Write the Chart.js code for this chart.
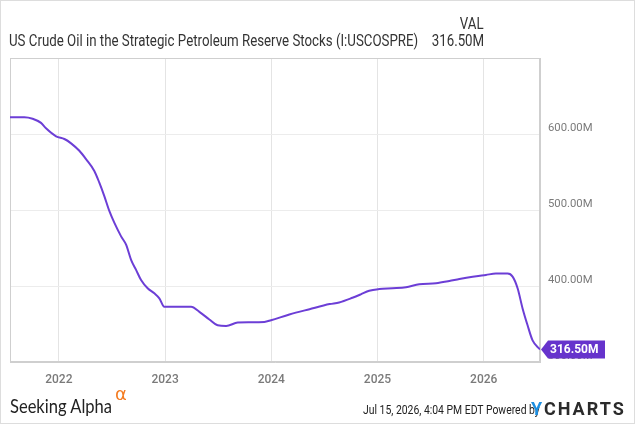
<!DOCTYPE html>
<html>
<head>
<meta charset="utf-8">
<script src="https://cdn.jsdelivr.net/npm/chart.js@4.4.1/dist/chart.umd.min.js"></script>
<style>
  body { margin: 0; background: #fff; font-family: Roboto, sans-serif; }
  #wrap { position: relative; width: 635px; height: 424px; overflow: hidden; }
  #frame { position: absolute; left: 0; top: 0; width: 633px; height: 422px; border: 1px solid #ddd; pointer-events: none; }
  .t { position: absolute; white-space: nowrap; color: #333; }
  .cond { transform: scaleX(0.83); transform-origin: left top; }
  .cond.r { transform-origin: right top; }
  #title { left: 9px; top: 31px; font-size: 16px; }
  #valhead { right: 151px; top: 14px; font-size: 16px; }
  #valnum { right: 151px; top: 31px; font-size: 16px; }
  #sa { left: 10px; top: 394px; font-size: 19px; color: #222; font-family: Lato, sans-serif; transform: scaleX(0.87); transform-origin: left top; }
  #alpha { left: 115px; top: 383px; font-size: 18px; color: #f47b20; font-family: "DejaVu Sans", sans-serif; }
  #stamp { left: 363px; top: 402px; font-size: 13px; color: #222; transform: scaleX(0.8); }
  #yc { left: 531px; top: 398px; font-size: 18px; font-weight: bold; letter-spacing: 2px; color: #2b2b2b; }
  #yc span { color: #1d8fe1; }
</style>
</head>
<body>
<div id="wrap">
  <canvas id="spr_chart" width="635" height="424"></canvas>
  <div class="t cond" id="title">US Crude Oil in the Strategic Petroleum Reserve Stocks (I:USCOSPRE)</div>
  <div class="t cond r" id="valhead">VAL</div>
  <div class="t cond r" id="valnum">316.50M</div>
  <div class="t" id="sa">Seeking Alpha</div>
  <div class="t" id="alpha">α</div>
  <div class="t cond" id="stamp">Jul 15, 2026, 4:04 PM EDT Powered by</div>
  <div class="t" id="yc"><span>Y</span>CHARTS</div>
  <div id="frame"></div>
</div>
<script>
// decimal years
const years = [2021.54, 2021.675, 2021.753, 2021.832, 2021.879, 2021.974, 2022.052, 2022.115, 2022.193, 2022.256,
  2022.334, 2022.381, 2022.428, 2022.476, 2022.523, 2022.586, 2022.633, 2022.680, 2022.727, 2022.774,
  2022.836, 2022.899, 2022.946, 2022.993, 2023.245, 2023.323, 2023.417, 2023.495, 2023.575, 2023.684,
  2023.794, 2023.935, 2023.998, 2024.17, 2024.36, 2024.55, 2024.639, 2024.764, 2024.843, 2024.922,
  2025.016, 2025.142, 2025.268, 2025.393, 2025.551, 2025.676, 2025.771, 2025.896, 2026.021, 2026.115,
  2026.225, 2026.272, 2026.319, 2026.366, 2026.413, 2026.460, 2026.53];
// stocks, millions of barrels
const stocks = [622, 622, 620, 614.6, 607.5, 597, 593.4, 587.7, 577.9, 566.9,
  551.4, 536, 518.3, 498.4, 483, 465.3, 454.3, 434.4, 421.2, 407.9,
  397, 390.3, 383.7, 372.6, 372.6, 366, 355.9, 348.3, 347.4, 351.9,
  352.3, 352.7, 355, 362.5, 369.5, 376.2, 378.4, 384.5, 389, 393.8,
  396, 397, 398.3, 402.3, 403.6, 406.6, 409.3, 412.3, 414.6, 416.3,
  416.3, 412.3, 397, 370.5, 348.3, 328.5, 316.5];
const yearTicks = [2022, 2023, 2024, 2025, 2026];
const valueTicks = [300, 400, 500, 600, 700];
const lastLabel = '316.50M';

const points = years.map((y, i) => ({ x: y, y: stocks[i] }));

// grey frame round the plot
const framePlugin = {
  id: 'frame',
  beforeDatasetsDraw(chart) {
    const a = chart.chartArea, ctx = chart.ctx;
    ctx.save();
    ctx.strokeStyle = '#cfcfcf';
    ctx.lineWidth = 1;
    ctx.strokeRect(a.left + 0.5, a.top + 0.5, a.right - a.left - 1, a.bottom - a.top - 1);
    ctx.restore();
  }
};

// purple tag with last value
const tagPlugin = {
  id: 'lastTag',
  afterDraw(chart) {
    const ctx = chart.ctx;
    const ys = chart.scales.y;
    const yy = ys.getPixelForValue(stocks[stocks.length - 1]);
    const x0 = chart.chartArea.right + 1;
    const h = 18, w = 57;
    ctx.save();
    ctx.fillStyle = '#6633cc';
    ctx.beginPath();
    ctx.moveTo(x0, yy);
    ctx.lineTo(x0 + 7, yy - h / 2);
    ctx.lineTo(x0 + 7 + w, yy - h / 2);
    ctx.lineTo(x0 + 7 + w, yy + h / 2);
    ctx.lineTo(x0 + 7, yy + h / 2);
    ctx.closePath();
    ctx.fill();
    ctx.fillStyle = '#fff';
    ctx.font = 'bold 12px Roboto';
    ctx.textBaseline = 'middle';
    ctx.textAlign = 'left';
    ctx.fillText(lastLabel, x0 + 9, yy + 1);
    ctx.restore();
  }
};

const ctx = document.getElementById('spr_chart').getContext('2d');
new Chart(ctx, {
  type: 'line',
  data: {
    datasets: [{
      data: points,
      borderColor: '#6c3ed6',
      borderWidth: 2,
      pointRadius: 0,
      fill: false,
      cubicInterpolationMode: 'monotone'
    }]
  },
  options: {
    responsive: false,
    animation: false,
    layout: { padding: { left: 10, top: 58, right: 0, bottom: 32 } },
    plugins: { legend: { display: false }, tooltip: { enabled: false } },
    scales: {
      x: {
        type: 'linear',
        min: 2021.54,
        max: 2026.53,
        afterBuildTicks: s => { s.ticks = yearTicks.map(v => ({ value: v })); },
        afterFit: s => { s.height = 30; },
        grid: { color: '#e4e4e4', drawTicks: false },
        border: { color: '#cfcfcf' },
        ticks: {
          padding: 11,
          color: '#7a7a7a',
          font: { family: 'Roboto', size: 12, weight: '500' },
          callback: v => String(v)
        }
      },
      y: {
        position: 'right',
        min: 300,
        max: 700,
        afterBuildTicks: s => { s.ticks = valueTicks.map(v => ({ value: v })); },
        afterFit: s => { s.width = 95; },
        grid: { color: '#ececec', drawTicks: false },
        border: { color: '#cfcfcf' },
        ticks: {
          padding: 8,
          labelOffset: -6,
          color: '#7a7a7a',
          font: { family: 'Roboto', size: 11.3 },
          callback: v => v >= 700 ? '' : v.toFixed(2) + 'M'
        }
      }
    }
  },
  plugins: [framePlugin, tagPlugin]
});
</script>
</body>
</html>
